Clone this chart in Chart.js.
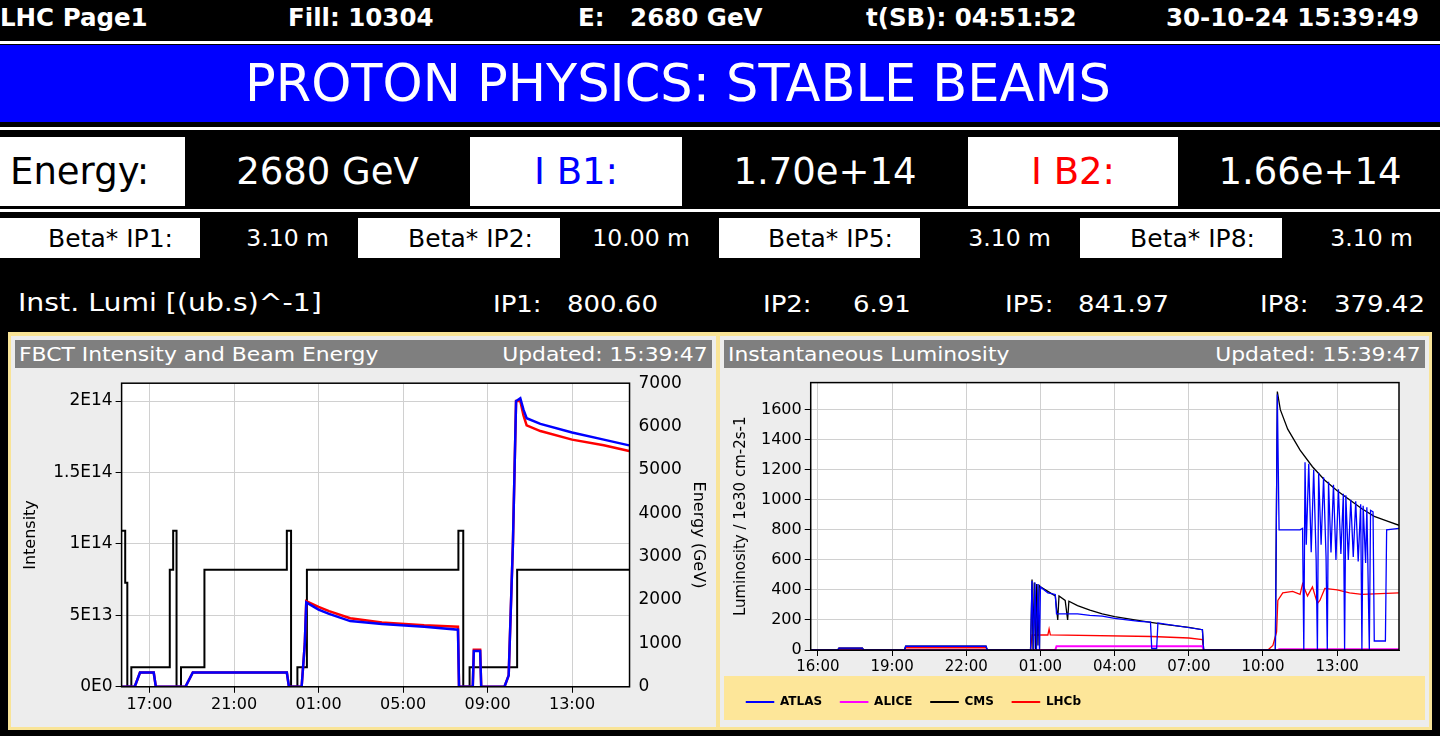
<!DOCTYPE html>
<html><head><meta charset="utf-8">
<script src="https://cdn.jsdelivr.net/npm/chart.js@4.4.1/dist/chart.umd.min.js"></script>
<style>
body{margin:0;background:#000;width:1440px;height:736px;overflow:hidden;font-family:"DejaVu Sans",sans-serif;position:relative}
.a{position:absolute;white-space:nowrap}
.top{color:#fff;font-weight:bold;font-size:24.5px;top:3px}
.cell{position:absolute;display:flex;align-items:center;justify-content:center}
.r{justify-content:flex-end;padding-right:27px;box-sizing:border-box}
.w{background:#fff;color:#000}.k{background:#000;color:#fff}
.l{color:#fff;font-size:23px;top:291px;transform:scaleX(1.13);transform-origin:left}
.panel{position:absolute;background:#ededed}
.tbar{position:absolute;left:4px;right:4px;top:4px;height:28px;background:#7f7f7f;color:#fff;font-size:19px;line-height:28px}
.tbar span{transform:scaleX(1.15)}
</style></head><body>
<div class="a top" style="left:0">LHC Page1</div>
<div class="a top" style="left:288px">Fill: 10304</div>
<div class="a top" style="left:578px">E: &nbsp;&nbsp;2680 GeV</div>
<div class="a top" style="left:866px">t(SB): 04:51:52</div>
<div class="a top" style="left:1166px">30-10-24 15:39:49</div>
<div class="a" style="left:0;top:41px;width:1440px;height:3px;background:#fff"></div>
<div class="a" style="left:0;top:45px;width:1440px;height:77px;background:#0000ff"></div>
<div class="a" style="left:245px;top:45px;color:#fff;font-size:51px;line-height:77px">PROTON PHYSICS: STABLE BEAMS</div>
<div class="a" style="left:0;top:127px;width:1440px;height:3px;background:#fff"></div>
<div class="cell w" style="left:0;top:137px;width:185px;height:69px;font-size:37px;justify-content:flex-start;padding-left:10px;box-sizing:border-box">Energy:</div>
<div class="cell k" style="left:187px;top:137px;width:281px;height:69px;font-size:37px">2680 GeV</div>
<div class="cell w" style="left:470px;top:137px;width:212px;height:69px;font-size:37px;color:#0000ff">I B1:</div>
<div class="cell k" style="left:684px;top:137px;width:282px;height:69px;font-size:37px">1.70e+14</div>
<div class="cell w" style="left:968px;top:137px;width:210px;height:69px;font-size:37px;color:#ff0000">I B2:</div>
<div class="cell k" style="left:1180px;top:137px;width:260px;height:69px;font-size:37px">1.66e+14</div>
<div class="a" style="left:0;top:209px;width:1440px;height:3px;background:#fff"></div>
<div class="cell w r" style="left:0;top:218px;width:200px;height:40px;font-size:25px">Beta* IP1:</div>
<div class="cell k r" style="left:202px;top:218px;width:154px;height:40px;font-size:23.5px">3.10 m</div>
<div class="cell w r" style="left:358px;top:218px;width:202px;height:40px;font-size:25px">Beta* IP2:</div>
<div class="cell k r" style="left:562px;top:218px;width:155px;height:40px;font-size:23.5px">10.00 m</div>
<div class="cell w r" style="left:719px;top:218px;width:201px;height:40px;font-size:25px">Beta* IP5:</div>
<div class="cell k r" style="left:922px;top:218px;width:156px;height:40px;font-size:23.5px">3.10 m</div>
<div class="cell w r" style="left:1080px;top:218px;width:202px;height:40px;font-size:25px">Beta* IP8:</div>
<div class="cell k r" style="left:1284px;top:218px;width:156px;height:40px;font-size:23.5px">3.10 m</div>
<div class="a l" style="left:18px;font-size:24px;top:289px;transform:scaleX(1.18)">Inst. Lumi [(ub.s)^-1]</div>
<div class="a l" style="left:493px">IP1:</div><div class="a l" style="left:567px">800.60</div>
<div class="a l" style="left:763px">IP2:</div><div class="a l" style="left:853px">6.91</div>
<div class="a l" style="left:1005px">IP5:</div><div class="a l" style="left:1078px">841.97</div>
<div class="a l" style="left:1260px">IP8:</div><div class="a l" style="left:1334px">379.42</div>
<div class="a" style="left:8px;top:332px;width:1424px;height:398px;background:#f9e497"></div>
<div class="panel" style="left:11px;top:336px;width:705px;height:391px">
 <div class="tbar"><span style="position:absolute;left:4px;transform-origin:left">FBCT Intensity and Beam Energy</span><span style="position:absolute;right:4px;transform-origin:right">Updated: 15:39:47</span></div>
 <div style="position:absolute;left:4px;top:34px;width:697px;height:346px"><canvas id="c1"></canvas></div>
</div>
<div class="panel" style="left:720px;top:336px;width:709px;height:391px">
 <div class="tbar"><span style="position:absolute;left:4px;transform-origin:left">Instantaneous Luminosity</span><span style="position:absolute;right:4px;transform-origin:right">Updated: 15:39:47</span></div>
 <div style="position:absolute;left:4px;top:34px;width:701px;height:354px"><canvas id="c2"></canvas></div>
</div>
<script>
// ---- FBCT chart data (time in hours since 00:00 on 29-10) ----
const energyT=[15.68,15.85,15.95,16.14,17.96,18.12,18.28,18.49,19.6,23.5,23.7,24.0,24.45,31.62,31.85,32.15,34.4,39.7];
const energyV=[3600,2400,0,450,2700,3600,0,450,2700,3600,0,450,2700,3600,0,450,2700,2700];
const b2T=[15.68,16.3,16.55,17.2,17.3,18.7,19.05,23.5,23.6,24.2,24.35,24.42,25.0,25.5,26.5,28,30,31.6,31.65,32.3,32.35,32.65,32.7,33.8,34.0,34.2,34.35,34.55,34.7,34.85,35.5,37,38.5,39.7];
const b2V=[0,0,1.0,1.0,0,0,1.0,1.0,0,0,3,6.0,5.6,5.3,4.8,4.5,4.3,4.2,0,0,2.6,2.6,0,0,0.8,10,20,20,19,18.3,17.9,17.3,16.9,16.5];
const b1T=b2T;
const b1V=[0,0,1.0,1.0,0,0,1.0,1.0,0,0,3,5.9,5.4,5.1,4.6,4.4,4.2,4.0,0,0,2.5,2.5,0,0,0.8,10,20,20.2,19.4,18.8,18.4,17.8,17.3,16.9];
const fbctTicks=[17,21,25,29,33,37];
const intTickLabels={0:'0E0',5:'5E13',10:'1E14',15:'1.5E14',20:'2E14'};
// ---- Luminosity data ----
const cmsT=[15.71,16.8,16.85,17.8,17.85,19.5,19.55,22.8,22.85,24.6,24.66,24.7,24.75,24.8,24.85,24.9,24.95,25.0,25.3,25.6,25.7,25.75,26.0,26.1,26.15,26.5,27,27.5,28,29,30,31,31.55,31.6,34.5,34.58,34.7,35,35.5,36,36.5,37,37.5,38,38.5,39,39.5];
const cmsV=[0,0,12,12,0,0,25,25,0,0,470,0,450,0,440,30,430,420,390,360,200,360,330,200,325,295,265,240,222,195,170,150,135,0,0,1720,1600,1470,1330,1220,1130,1060,1000,940,890,860,830];
const atlasT=[15.71,16.8,16.85,17.8,17.85,19.5,19.55,22.8,22.85,24.6,24.66,24.72,24.78,24.84,24.9,24.96,25.0,25.3,25.6,25.65,26.5,27,27.5,28,29,29.45,29.5,29.7,29.75,31.55,31.6,34.5,34.58,34.65,35.5,35.6,35.65,35.7,35.75,35.85,35.95,36.05,36.15,36.2,36.25,36.35,36.45,36.55,36.6,36.65,36.75,36.85,36.95,37.05,37.15,37.25,37.3,37.35,37.45,37.55,37.65,37.75,37.85,37.95,38.0,38.05,38.15,38.2,38.3,38.35,38.45,38.5,38.95,39.0,39.5];
const atlasV=[0,0,12,12,0,0,25,25,0,0,460,0,450,0,440,0,420,380,370,240,240,230,225,210,190,185,10,10,180,135,0,0,1700,800,800,810,0,1250,700,1240,650,1200,600,0,1180,700,1150,620,0,1120,650,1100,600,1070,640,1040,0,1030,600,1000,620,990,590,970,0,960,580,950,0,930,920,60,60,800,810];
const lhcbT=[15.71,16.8,16.85,17.8,17.85,19.5,19.55,22.8,22.85,24.6,24.66,25.3,25.35,25.4,29.5,31,31.55,31.6,34.2,34.4,34.55,34.6,34.8,35.2,35.5,35.6,35.8,36,36.2,36.3,36.5,37,37.5,38,39.5];
const lhcbV=[0,0,10,10,0,0,15,15,0,0,100,100,140,100,90,80,70,0,0,30,120,330,380,390,370,440,360,420,310,330,410,400,380,370,380];
const aliceT=[15.71,25.6,25.65,31.55,31.6,34.6,34.65,39.5];
const aliceV=[0,0,25,25,0,0,5,5];
const lumiTicks=[16,19,22,25,28,31,34,37];
const lumiYTicks=[0,200,400,600,800,1000,1200,1400,1600];

const pts=(t,v)=>t.map((x,i)=>({x:x,y:v[i]}));
const hh=v=>String(Math.round(v)%24).padStart(2,'0')+':00';
const F="'DejaVu Sans', sans-serif";
Chart.defaults.font.family=F;Chart.defaults.color='#000';
const frame={id:'frame',afterDraw(c){const a=c.chartArea,x=c.ctx;x.save();x.strokeStyle='#000';x.lineWidth=1.5;x.strokeRect(a.left,a.top,a.right-a.left,a.bottom-a.top);x.restore();}};
const bg={id:'bg',beforeDraw(c){const a=c.chartArea,x=c.ctx;x.save();x.fillStyle='#fff';x.fillRect(a.left,a.top,a.right-a.left,a.bottom-a.top);
 if(c.legend&&c.options.plugins.legend.display){const l=c.legend;x.fillStyle='#fde699';x.fillRect(0,l.top-2,c.width,l.bottom-l.top+4);}x.restore();}};
const xAxis=(ticks,min,max,fs)=>({type:'linear',min:min,max:max,afterBuildTicks:s=>{s.ticks=ticks.map(v=>({value:v}));},
 ticks:{callback:hh,font:{size:fs},maxRotation:0,autoSkip:false,padding:2},grid:{color:'#d0d0d0',tickLength:6,tickColor:'#000'},border:{color:'#000'}});
const ln=(l,d,c,w,extra)=>Object.assign({label:l,data:d,borderColor:c,backgroundColor:c,borderWidth:w,pointRadius:0,tension:0},extra||{});

new Chart(document.getElementById('c1'),{type:'line',plugins:[bg,frame],
 data:{datasets:[ln('B1',pts(b1T,b1V),'#0000ff',2.5,{yAxisID:'y'}),ln('B2',pts(b2T,b2V),'#ff0000',2.5,{yAxisID:'y'}),ln('Energy',pts(energyT,energyV),'#000',2,{yAxisID:'y2',stepped:true})]},
 options:{responsive:true,maintainAspectRatio:false,animation:false,layout:{padding:{top:10,right:0,left:2,bottom:0}},
  plugins:{legend:{display:false},tooltip:{enabled:false}},
  scales:{x:xAxis(fbctTicks,15.68,39.72,16),
   y:{min:0,max:21.25,afterBuildTicks:s=>{s.ticks=[0,5,10,15,20].map(v=>({value:v}));},ticks:{callback:v=>intTickLabels[v],font:{size:17}},grid:{color:'#d0d0d0',tickLength:6,tickColor:'#000'},title:{display:true,text:'Intensity',font:{size:16},padding:{bottom:10}}},
   y2:{position:'right',min:0,max:7000,ticks:{stepSize:1000,callback:v=>String(v),font:{size:17}},grid:{display:false,tickLength:6,tickColor:'#000'},title:{display:true,text:'Energy (GeV)',font:{size:16}}}}}});

new Chart(document.getElementById('c2'),{type:'line',plugins:[bg,frame],
 data:{datasets:[ln('ATLAS',pts(atlasT,atlasV),'#0000ff',1.3),ln('ALICE',pts(aliceT,aliceV),'#ff00ff',2),ln('CMS',pts(cmsT,cmsV),'#000',1.3),ln('LHCb',pts(lhcbT,lhcbV),'#ff0000',1.3)]},
 options:{responsive:true,maintainAspectRatio:false,animation:false,layout:{padding:{top:10,right:26,left:4,bottom:6}},
  plugins:{tooltip:{enabled:false},legend:{display:true,position:'bottom',align:'start',
   labels:{boxWidth:28,boxHeight:1,padding:18,font:{size:12,weight:'bold'},generateLabels:c=>c.data.datasets.map((d,i)=>({text:d.label,fillStyle:d.borderColor,strokeStyle:d.borderColor,lineWidth:1,datasetIndex:i}))}}},
  scales:{x:xAxis(lumiTicks,15.71,39.5,15),
   y:{min:0,max:1780,afterBuildTicks:s=>{s.ticks=lumiYTicks.map(v=>({value:v}));},ticks:{callback:v=>String(v),font:{size:16}},grid:{color:'#d0d0d0',tickLength:6,tickColor:'#000'},title:{display:true,text:'Luminosity / 1e30 cm-2s-1',font:{size:15},padding:{bottom:8}}}}}});
</script>
</body></html>
